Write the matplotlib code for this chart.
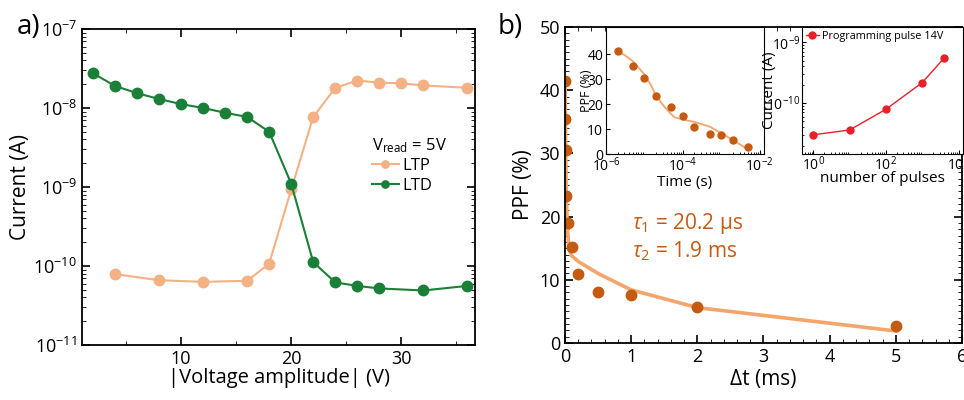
import matplotlib
matplotlib.use('Agg')
import matplotlib.pyplot as plt
from matplotlib.ticker import MultipleLocator, LogLocator, NullFormatter

plt.rcParams['font.family'] = ['Open Sans', 'DejaVu Sans']
plt.rcParams['mathtext.fontset'] = 'custom'
plt.rcParams['mathtext.rm'] = 'Open Sans'
plt.rcParams['mathtext.it'] = 'Open Sans:italic'

# panel a: LTP / LTD vs pulse amplitude
v_ltd = [2, 4, 6, 8, 10, 12, 14, 16, 18, 20, 22, 24, 26, 28, 32, 36]
i_ltd = [2.75e-8, 1.9e-8, 1.54e-8, 1.3e-8, 1.12e-8, 1.0e-8, 8.7e-9, 7.7e-9,
         5.0e-9, 1.1e-9, 1.12e-10, 6.2e-11, 5.6e-11, 5.2e-11, 4.9e-11, 5.6e-11]
v_ltp = [4, 8, 12, 16, 18, 20, 22, 24, 26, 28, 30, 32, 36]
i_ltp = [7.9e-11, 6.6e-11, 6.3e-11, 6.5e-11, 1.07e-10, 9.3e-10, 7.7e-9,
         1.8e-8, 2.22e-8, 2.1e-8, 2.05e-8, 1.93e-8, 1.8e-8]

# panel b: paired pulse facilitation
dt_s = [2e-6, 5e-6, 1e-5, 2e-5, 5e-5, 1e-4, 2e-4, 5e-4, 1e-3, 2e-3, 5e-3]
ppf = [41.5, 35.5, 30.5, 23.2, 19.0, 15.2, 10.9, 8.1, 7.6, 5.7, 2.7]
fit_t_s = [2e-6, 3e-6, 5e-6, 1e-5, 1.5e-5, 2e-5, 3.5e-5, 6e-5, 1e-4, 2e-4,
           5e-4, 1e-3, 2e-3, 5e-3]
fit_ppf = [41.3, 39.8, 37.3, 32.0, 27.5, 23.4, 18.5, 14.8, 13.8, 12.9,
           11.0, 8.4, 5.6, 1.9]
dt_ms = [t * 1000 for t in dt_s]
fit_t_ms = [t * 1000 for t in fit_t_s]

# inset: current vs number of pulses
n_pulses = [1, 10, 100, 1000, 4000]
i_pulses = [3.0e-11, 3.6e-11, 7.9e-11, 2.17e-10, 5.5e-10]

c_ltp = '#f4b183'
c_ltd = '#1a7f37'
c_dot = '#c55a11'
c_fit = '#f4a56c'
c_red = '#e8202a'

fig = plt.figure(figsize=(9.64, 4.0), dpi=100)

# ---- a) ----
ax = fig.add_axes([0.0851, 0.1375, 0.4077, 0.79])
ax.plot(v_ltp, i_ltp, '-o', color=c_ltp, lw=1.5, ms=7.5, label='LTP')
ax.plot(v_ltd, i_ltd, '-o', color=c_ltd, lw=1.5, ms=7.5, label='LTD')
ax.set_yscale('log')
ax.set_ylim(1e-11, 1e-7)
ax.set_xlim(1, 36.7)
ax.xaxis.set_major_locator(MultipleLocator(10))
ax.xaxis.set_minor_locator(MultipleLocator(5))
ax.yaxis.set_major_locator(LogLocator(base=10, numticks=10))
ax.yaxis.set_minor_locator(LogLocator(base=10, subs=range(2, 10), numticks=10))
ax.yaxis.set_minor_formatter(NullFormatter())
ax.tick_params(which='both', direction='in', top=True, right=True, labelsize=13)
ax.tick_params(which='major', length=6, width=1.2)
ax.tick_params(which='minor', length=3)
ax.set_xlabel('|Voltage amplitude| (V)', fontsize=14.5, labelpad=0)
ax.set_ylabel('Current (A)', fontsize=15, labelpad=2)
for s in ax.spines.values():
    s.set_linewidth(1.3)
leg = ax.legend(loc='center left', bbox_to_anchor=(0.7, 0.57), frameon=False,
                title=r'V$_{\mathrm{read}}$ = 5V', fontsize=12, title_fontsize=12,
                handlelength=1.6, handletextpad=0.2, markerscale=0.7,
                labelspacing=0.2)
leg._legend_box.align = 'left'
fig.text(0.017, 0.915, 'a)', fontsize=20)

# ---- b) ----
bx = fig.add_axes([0.5861, 0.1425, 0.4118, 0.79])
bx.plot(fit_t_ms, fit_ppf, '-', color=c_fit, lw=2.6)
bx.plot(dt_ms, ppf, 'o', color=c_dot, ms=7.5)
bx.set_xlim(0, 6)
bx.set_ylim(0, 50)
bx.xaxis.set_major_locator(MultipleLocator(1))
bx.xaxis.set_minor_locator(MultipleLocator(0.2))
bx.yaxis.set_major_locator(MultipleLocator(10))
bx.yaxis.set_minor_locator(MultipleLocator(1))
bx.tick_params(which='both', direction='in', top=True, right=True, labelsize=13)
bx.tick_params(which='major', length=6, width=1.2)
bx.tick_params(which='minor', length=3)
bx.set_xlabel('Δt (ms)', fontsize=15, labelpad=2)
bx.set_ylabel('PPF (%)', fontsize=15, labelpad=4)
for s in bx.spines.values():
    s.set_linewidth(1.3)
bx.text(0.17, 0.36, r'$\tau_{\mathit{1}}$ = 20.2 μs', transform=bx.transAxes,
        color=c_dot, fontsize=15)
bx.text(0.17, 0.272, r'$\tau_{\mathit{2}}$ = 1.9 ms', transform=bx.transAxes,
        color=c_dot, fontsize=15)
fig.text(0.516, 0.915, 'b)', fontsize=20)

# inset: PPF vs time
ix = fig.add_axes([0.6286, 0.615, 0.1639, 0.3175])
ix.plot(fit_t_s, fit_ppf, '-', color=c_fit, lw=1.3)
ix.plot(dt_s, ppf, 'o', color=c_dot, ms=5)
ix.set_xscale('log')
ix.set_xlim(1e-6, 1.3e-2)
ix.set_ylim(0, 51)
ix.set_xticks([1e-6, 1e-4, 1e-2])
ix.xaxis.set_minor_locator(LogLocator(base=10, subs=range(2, 10), numticks=10))
ix.xaxis.set_minor_formatter(NullFormatter())
ix.set_yticks([0, 10, 20, 30, 40])
ix.tick_params(which='both', direction='in', labelsize=10, pad=2)
ix.tick_params(which='major', length=3)
ix.tick_params(which='minor', length=1.5)
ix.set_xlabel('Time (s)', fontsize=11, labelpad=0)
ix.set_ylabel('PPF (%)', fontsize=9, labelpad=-4)

# inset: current vs number of pulses
jx = fig.add_axes([0.8317, 0.615, 0.167, 0.3175])
jx.plot(n_pulses, i_pulses, '-o', color=c_red, lw=1, ms=5,
        label='Programming pulse 14V')
jx.set_xscale('log')
jx.set_yscale('log')
jx.set_xlim(0.48, 1.3e4)
jx.set_ylim(1.45e-11, 1.78e-9)
jx.set_xticks([1, 1e2, 1e4])
jx.xaxis.set_minor_locator(LogLocator(base=10, subs=range(2, 10), numticks=10))
jx.xaxis.set_minor_formatter(NullFormatter())
jx.set_yticks([1e-10, 1e-9])
jx.yaxis.set_minor_formatter(NullFormatter())
jx.tick_params(which='both', direction='in', labelsize=10, pad=1)
jx.tick_params(which='major', length=3)
jx.tick_params(which='minor', length=1.5)
jx.set_xlabel('number of pulses', fontsize=11, labelpad=-2)
jx.set_ylabel('Current (A)', fontsize=11, labelpad=-8)
jx.legend(loc='upper left', frameon=False, fontsize=7.8, handlelength=1.2,
          handletextpad=0.3, borderaxespad=0.15, borderpad=0.2)

fig.savefig('out.png', dpi=100)
